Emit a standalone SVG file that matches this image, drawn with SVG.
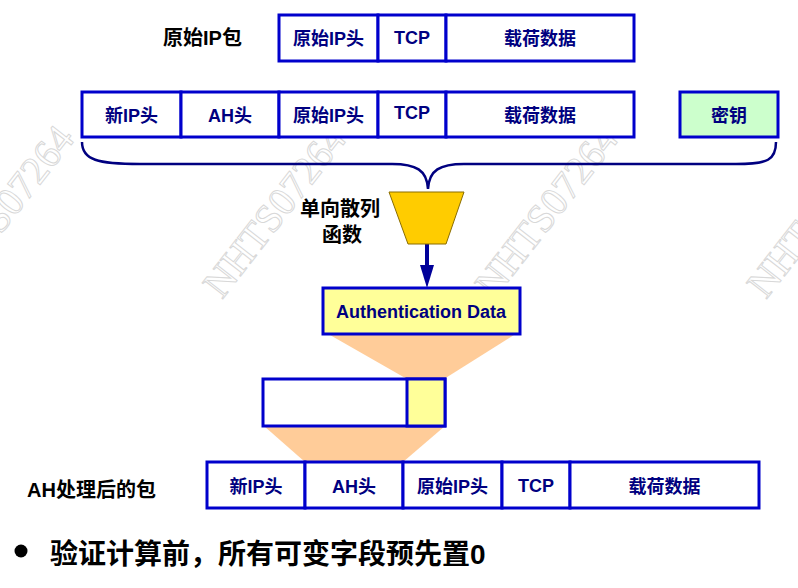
<svg xmlns="http://www.w3.org/2000/svg" width="798" height="588" viewBox="0 0 798 588">
<style>
.cell{fill:#fff;stroke:#0000CC;stroke-width:3}
.ct{font-family:"Liberation Sans","Noto Sans CJK SC",sans-serif;font-weight:bold;font-size:18px;fill:#000080;text-anchor:middle;dominant-baseline:central}
.lb{font-family:"Liberation Sans","Noto Sans CJK SC",sans-serif;font-weight:bold;font-size:20px;fill:#000;dominant-baseline:central}
.wm{font-family:"Liberation Serif",serif;font-size:40px;fill:none;stroke:#d8d8d8;stroke-width:1}
.fan{fill:#FFCC99}
</style>
<rect width="798" height="588" fill="#fff"/>
<g id="watermarks">
<text class="wm" transform="translate(-50,300) rotate(-52)">NHTS07264</text>
<text class="wm" transform="translate(222,300) rotate(-52)">NHTS07264</text>
<text class="wm" transform="translate(494,300) rotate(-52)">NHTS07264</text>
<text class="wm" transform="translate(766,300) rotate(-52)">NHTS07264</text>
</g>
<g id="fans">
<polygon class="fan" points="330,335 514,335 444,379 407,379"/>
<polygon class="fan" points="264,426 445,426 403,462 305,462"/>
</g>
<g id="original-packet">
<text class="lb" x="163" y="38">原始IP包</text>
<rect class="cell" x="279" y="15" width="99" height="46"/>
<rect class="cell" x="378" y="15" width="68" height="46"/>
<rect class="cell" x="446" y="15" width="188" height="46"/>
<text class="ct" x="328.5" y="39">原始IP头</text>
<text class="ct" x="412" y="38">TCP</text>
<text class="ct" x="540" y="39">载荷数据</text>
</g>
<g id="ah-input-packet">
<rect class="cell" x="82" y="92" width="99" height="45"/>
<rect class="cell" x="181" y="92" width="98" height="45"/>
<rect class="cell" x="279" y="92" width="99" height="45"/>
<rect class="cell" x="378" y="92" width="68" height="45"/>
<rect class="cell" x="446" y="92" width="188" height="45"/>
<text class="ct" x="131.5" y="116">新IP头</text>
<text class="ct" x="230" y="116">AH头</text>
<text class="ct" x="328.5" y="116">原始IP头</text>
<text class="ct" x="412" y="113">TCP</text>
<text class="ct" x="540" y="116">载荷数据</text>
</g>
<g id="key">
<rect class="cell" x="680" y="92" width="98" height="45" style="fill:#CCFFCC"/>
<text class="ct" x="729" y="116">密钥</text>
</g>
<g id="connectors">
<path d="M82,142 C82,160 98,164 140,164 L392,164 C416,164 427,170 428,189 C429,170 440,164 464,164 L736,164 C768,164 776,160 776,142" fill="none" stroke="#000080" stroke-width="2.5"/>
<line x1="427" y1="244" x2="427" y2="268" stroke="#000099" stroke-width="4"/>
<polygon points="420,265 434,265 427,288" fill="#000099"/>
</g>
<g id="hash-function">
<polygon points="389,192 464,192 446,244 408,244" fill="#FFCC00" stroke="#8a6d00" stroke-width="1"/>
<text class="lb" x="340" y="209" text-anchor="middle">单向散列</text>
<text class="lb" x="342" y="235" text-anchor="middle">函数</text>
</g>
<g id="auth-data">
<rect x="323" y="288" width="197" height="46" fill="#FFFF99" stroke="#0000CC" stroke-width="3"/>
<text class="ct" x="421" y="312">Authentication Data</text>
</g>
<g id="ah-field">
<rect class="cell" x="263" y="379" width="182" height="47"/>
<rect x="407" y="379" width="38" height="47" fill="#FFFF99" stroke="#0000CC" stroke-width="3"/>
</g>
<g id="ah-packet">
<text class="lb" x="27" y="490">AH处理后的包</text>
<rect class="cell" x="207" y="462" width="98" height="46"/>
<rect class="cell" x="305" y="462" width="98" height="46"/>
<rect class="cell" x="403" y="462" width="99" height="46"/>
<rect class="cell" x="502" y="462" width="68" height="46"/>
<rect class="cell" x="570" y="462" width="189" height="46"/>
<text class="ct" x="256" y="487">新IP头</text>
<text class="ct" x="354" y="487">AH头</text>
<text class="ct" x="452.5" y="487">原始IP头</text>
<text class="ct" x="536" y="486">TCP</text>
<text class="ct" x="664.5" y="487">载荷数据</text>
</g>
<g id="note">
<circle cx="21" cy="551" r="6.5" fill="#000"/>
<text x="50" y="554" style="font-family:'Liberation Sans','Noto Sans CJK SC',sans-serif;font-weight:bold;font-size:28px;fill:#000;dominant-baseline:central">验证计算前，所有可变字段预先置0</text>
</g>
</svg>
